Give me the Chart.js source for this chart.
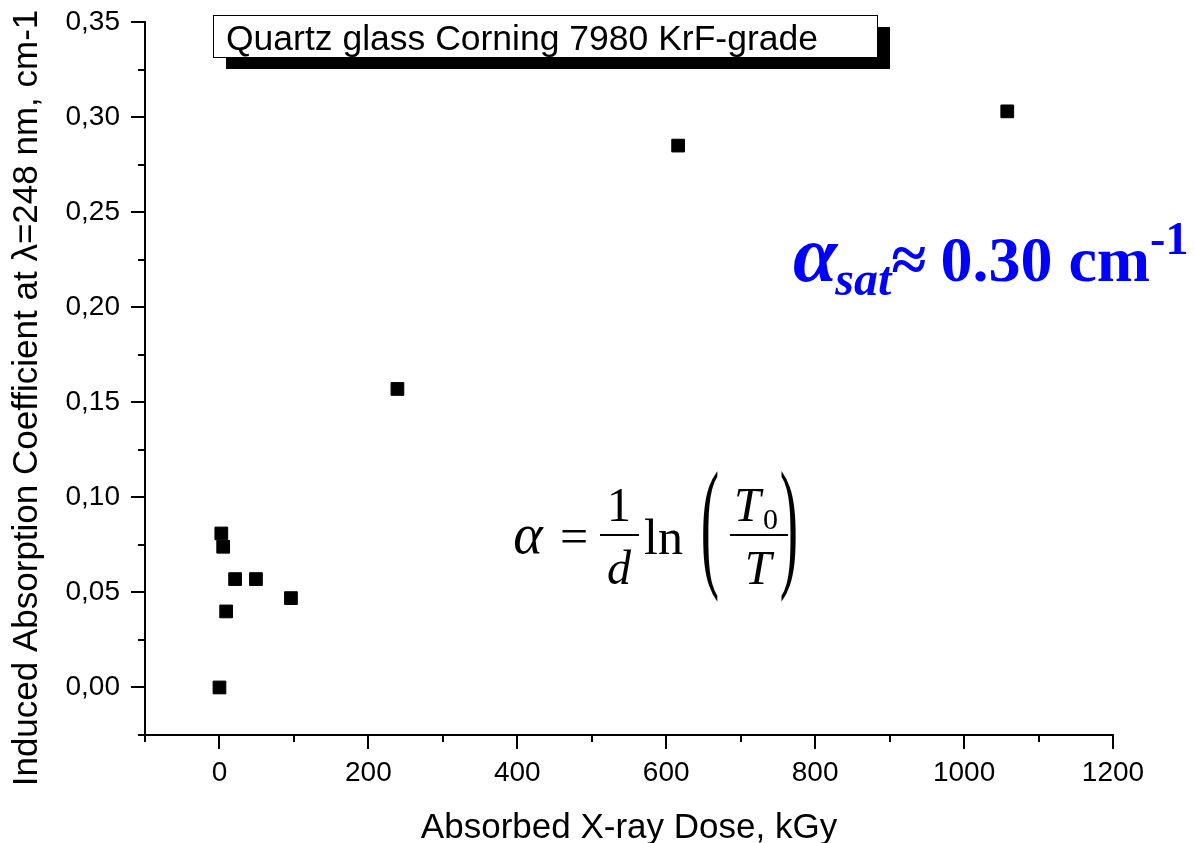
<!DOCTYPE html>
<html>
<head>
    <title>Induced absorption vs absorbed X-ray dose</title>
    <script src="https://cdn.jsdelivr.net/npm/chart.js"></script>
    <style>
        body {
            margin: 0;
            background-color: #fff;
        }
        #wrap {
            width: 1195px;
            height: 843px;
        }
    </style>
</head>
<body>

<div id="wrap">
    <canvas id="doseChart" width="1195" height="843"></canvas>
</div>

<script>
    // measured points (dose in kGy, coefficient in cm-1)
    const doseKGy = [0, 2.5, 5, 9, 21, 49, 96, 239, 616, 1058];
    const alphaCm = [0.000, 0.081, 0.074, 0.040, 0.057, 0.057, 0.047, 0.157, 0.285, 0.303];

    // labelled (major) ticks; minor ticks sit half way between
    const xMajor = [0, 200, 400, 600, 800, 1000, 1200];
    const yMajor = [0, 0.05, 0.10, 0.15, 0.20, 0.25, 0.30, 0.35];

    const legendText = 'Quartz glass Corning 7980 KrF-grade';
    const xTitle = 'Absorbed X-ray Dose, kGy';
    const yTitle = 'Induced Absorption Coefficient at \u03bb=248 nm, cm-1';

    const SANS = '"Liberation Sans", Arial, sans-serif';
    const SERIF = '"Liberation Serif", "Times New Roman", serif';

    function isMajor(list, v) {
        return list.some(m => Math.abs(m - v) < 1e-6);
    }

    // ticks, y title, legend box and the two text annotations
    const decor = {
        id: 'decor',
        afterDraw(chart) {
            const ctx = chart.ctx;
            const a = chart.chartArea;
            const x = chart.scales.x;
            const y = chart.scales.y;
            ctx.save();

            // tick marks (outside, major long / minor short)
            ctx.strokeStyle = '#000';
            ctx.lineWidth = 2;
            x.ticks.forEach(t => {
                const px = Math.round(x.getPixelForValue(t.value));
                const len = isMajor(xMajor, t.value) ? 14 : 7;
                ctx.beginPath();
                ctx.moveTo(px, a.bottom);
                ctx.lineTo(px, a.bottom + len);
                ctx.stroke();
            });
            y.ticks.forEach(t => {
                const py = Math.round(y.getPixelForValue(t.value));
                const len = isMajor(yMajor, t.value) ? 14 : 7;
                ctx.beginPath();
                ctx.moveTo(a.left, py);
                ctx.lineTo(a.left - len, py);
                ctx.stroke();
            });

            // y axis title
            ctx.save();
            ctx.translate(27, 398);
            ctx.rotate(-Math.PI / 2);
            ctx.fillStyle = '#000';
            ctx.font = '35px ' + SANS;
            ctx.textAlign = 'center';
            ctx.textBaseline = 'middle';
            ctx.fillText(yTitle, 0, 0);
            ctx.restore();

            // legend box with drop shadow
            ctx.fillStyle = '#000';
            ctx.fillRect(226, 57, 664, 12);
            ctx.fillRect(878, 27, 12, 42);
            ctx.fillStyle = '#fff';
            ctx.fillRect(213.5, 15.5, 664, 42);
            ctx.lineWidth = 1;
            ctx.strokeRect(213.5, 15.5, 664, 42);
            ctx.fillStyle = '#000';
            ctx.font = '35.5px ' + SANS;
            ctx.textAlign = 'left';
            ctx.textBaseline = 'alphabetic';
            ctx.fillText(legendText, 226, 50);

            // formula  alpha = 1/d ln(T0/T)
            ctx.fillStyle = '#000';
            ctx.textAlign = 'center';
            ctx.font = 'italic 56px ' + SERIF;
            ctx.fillText('\u03b1', 528, 553);
            ctx.font = '50px ' + SERIF;
            ctx.fillText('=', 574, 553);
            ctx.font = '48px ' + SERIF;
            ctx.fillText('1', 619, 521);
            ctx.font = 'italic 48px ' + SERIF;
            ctx.fillText('d', 619, 584);
            ctx.lineWidth = 2;
            ctx.beginPath();
            ctx.moveTo(600, 535);
            ctx.lineTo(639, 535);
            ctx.moveTo(730, 535);
            ctx.lineTo(788, 535);
            ctx.stroke();
            ctx.textAlign = 'left';
            ctx.font = '50px ' + SERIF;
            ctx.fillText('ln', 644, 554);
            ctx.font = 'italic 48px ' + SERIF;
            ctx.fillText('T', 734, 521);
            ctx.font = '30px ' + SERIF;
            ctx.fillText('0', 763, 529);
            ctx.font = 'italic 48px ' + SERIF;
            ctx.textAlign = 'center';
            ctx.fillText('T', 758, 584);
            ['(', ')'].forEach((p, i) => {
                ctx.save();
                ctx.translate(i === 0 ? 710 : 789, 571);
                ctx.scale(0.38, 1);
                ctx.font = '145px ' + SERIF;
                ctx.textAlign = 'center';
                ctx.fillText(p, 0, 0);
                ctx.restore();
            });

            // saturation annotation in blue
            ctx.fillStyle = '#0000ff';
            ctx.textAlign = 'left';
            let cx = 793;
            ctx.font = 'italic bold 80px ' + SERIF;
            ctx.fillText('\u03b1', cx, 281);
            cx += ctx.measureText('\u03b1').width - 2;
            ctx.font = 'italic bold 48px ' + SERIF;
            ctx.fillText('sat', cx, 295);
            cx += ctx.measureText('sat').width;
            ctx.font = 'bold 64px ' + SERIF;
            ctx.fillText('\u2248', cx, 281);
            cx += ctx.measureText('\u2248').width + 14;
            ctx.fillText('0.30 cm', cx, 281);
            cx += ctx.measureText('0.30 cm').width;
            ctx.font = 'bold 46px ' + SERIF;
            ctx.fillText('-1', cx, 254);

            ctx.restore();
        }
    };

    const points = doseKGy.map((d, i) => ({ x: d, y: alphaCm[i] }));

    const doseCtx = document.getElementById('doseChart').getContext('2d');
    const doseChart = new Chart(doseCtx, {
        type: 'scatter',
        data: {
            datasets: [{
                data: points,
                pointStyle: 'rect',
                pointRadius: 9,
                pointHoverRadius: 9,
                backgroundColor: '#000',
                borderColor: '#000',
                borderWidth: 1
            }]
        },
        options: {
            responsive: false,
            animation: false,
            devicePixelRatio: 1,
            layout: { padding: { left: 0, top: 22, right: 82, bottom: 0 } },
            plugins: {
                legend: { display: false },
                tooltip: { enabled: false }
            },
            scales: {
                x: {
                    type: 'linear',
                    min: -100,
                    max: 1200,
                    afterFit: s => { s.height = 108; s.paddingLeft = 0; s.paddingRight = 0; },
                    grid: { display: false, drawTicks: false },
                    border: { display: true, color: '#000', width: 2 },
                    ticks: {
                        stepSize: 100,
                        autoSkip: false,
                        maxRotation: 0,
                        padding: 21,
                        color: '#000',
                        font: { family: SANS, size: 28 },
                        callback: v => isMajor(xMajor, v) ? String(Math.round(v)) : ''
                    },
                    title: {
                        display: true,
                        text: xTitle,
                        color: '#000',
                        font: { family: SANS, size: 35 },
                        padding: { top: 0, bottom: -6 }
                    }
                },
                y: {
                    min: -0.025,
                    max: 0.35,
                    afterFit: s => { s.width = 145; s.paddingTop = 0; s.paddingBottom = 0; },
                    grid: { display: false, drawTicks: false },
                    border: { display: true, color: '#000', width: 2 },
                    ticks: {
                        stepSize: 0.025,
                        autoSkip: false,
                        padding: 25,
                        color: '#000',
                        font: { family: SANS, size: 28 },
                        callback: v => isMajor(yMajor, v) ? v.toFixed(2).replace('.', ',') : ''
                    }
                }
            }
        },
        plugins: [decor]
    });
</script>

</body>
</html>
